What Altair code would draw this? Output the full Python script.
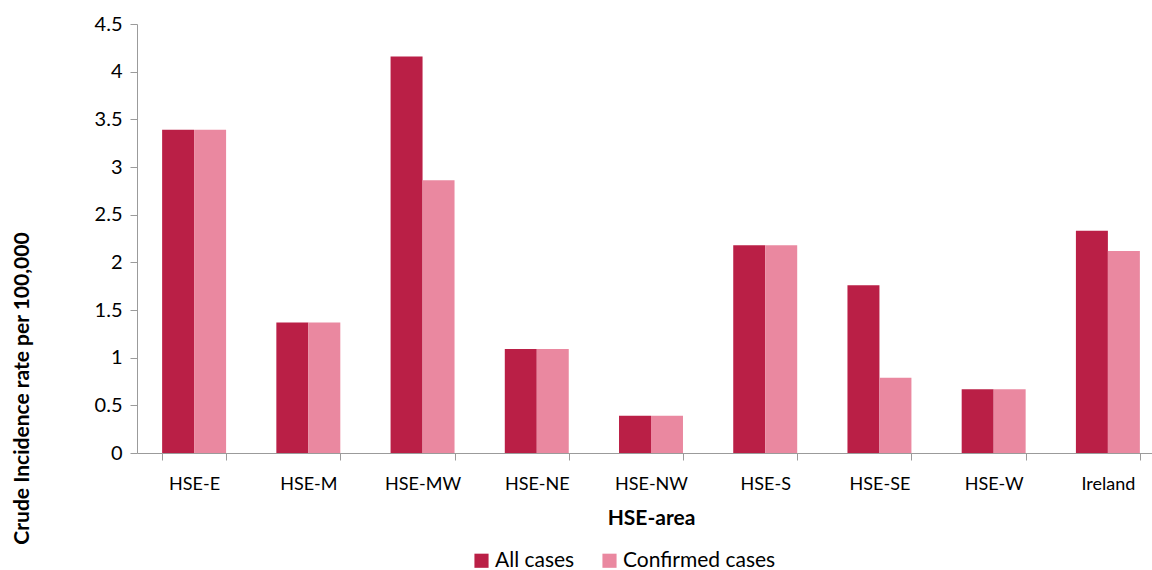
import altair as alt
import pandas as pd

areas = ["HSE-E", "HSE-M", "HSE-MW", "HSE-NE", "HSE-NW", "HSE-S", "HSE-SE", "HSE-W", "Ireland"]
all_cases = [3.39, 1.37, 4.16, 1.09, 0.39, 2.18, 1.76, 0.67, 2.33]
confirmed_cases = [3.39, 1.37, 2.86, 1.09, 0.39, 2.18, 0.79, 0.67, 2.12]
series = ["All cases", "Confirmed cases"]
colors = ["#BA1F46", "#EA88A0"]
y_ticks = [0, 0.5, 1, 1.5, 2, 2.5, 3, 3.5, 4, 4.5]

rows = []
for a, v1, v2 in zip(areas, all_cases, confirmed_cases):
    rows.append({"area": a, "series": series[0], "value": v1})
    rows.append({"area": a, "series": series[1], "value": v2})
df = pd.DataFrame(rows)

FONT = "Lato"
AX = "#9b9b9b"

chart = alt.Chart(df).mark_bar().encode(
    x=alt.X("area:N", sort=areas,
            scale=alt.Scale(paddingInner=0.44, paddingOuter=0.22, range=[0, 1028]),
            axis=alt.Axis(title="HSE-area", labelAngle=0, labelFontSize=18, labelFont=FONT,
                          labelColor="#000", labelPadding=15, tickBand="extent",
                          tickColor=AX, domainColor=AX, tickSize=7,
                          titleFontSize=21, titleFont=FONT, titleFontWeight="bold",
                          titleColor="#000", titlePadding=14)),
    xOffset=alt.XOffset("series:N", sort=series, scale=alt.Scale(paddingInner=0, paddingOuter=0)),
    y=alt.Y("value:Q", scale=alt.Scale(domain=[0, 4.5], nice=False),
            axis=alt.Axis(title="Crude Incidence rate per 100,000", values=y_ticks, format="~g",
                          labelFontSize=20, labelFont=FONT, labelColor="#000", labelPadding=8,
                          grid=False, tickColor=AX, domainColor=AX, tickSize=7,
                          titleFontSize=21, titleFont=FONT, titleFontWeight="bold", titleColor="#000",
                          titleX=-115, titleY=364, titleAngle=270, titleAlign="center",
                          titleBaseline="middle")),
    color=alt.Color("series:N", sort=series,
                    scale=alt.Scale(domain=series, range=colors),
                    legend=alt.Legend(title=None, orient="none", direction="horizontal",
                                      legendX=334, legendY=526, symbolType="square",
                                      symbolSize=200, symbolStrokeWidth=0, symbolOpacity=1,
                                      labelFontSize=21, labelFont=FONT, labelColor="#000",
                                      columnPadding=24, labelOffset=3)),
).properties(
    width=1015, height=429,
    autosize=alt.AutoSizeParams(type="none"),
    padding={"left": 137, "top": 24, "right": 0, "bottom": 117},
).configure_view(stroke=None).configure_bar(opacity=1)

chart.save("out.html", embed_options={"renderer": "svg", "actions": False})
